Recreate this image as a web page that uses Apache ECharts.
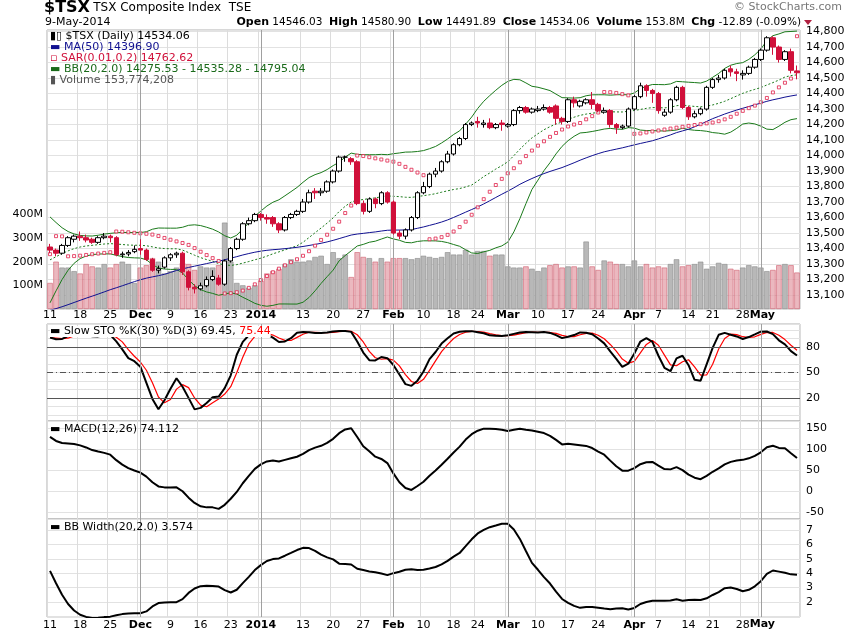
<!DOCTYPE html>
<html><head><meta charset="utf-8">
<script src="https://cdn.jsdelivr.net/npm/echarts@6/dist/echarts.min.js"></script>
<style>html,body{margin:0;padding:0;background:#fff}#c{width:850px;height:633px}</style>
</head><body><div id="c"></div>
<script>
// ---- data ----
const opens = [13410,13390,13370,13420,13460,13480,13470,13460,13440,13470,13480,13470,13360,13365,13380,
13400,13390,13330,13260,13280,13340,13360,13370,13250,13150,13140,13160,13200,13210,13170,13320,13400,13460,13560,13580,
13620,13600,13600,13560,13520,13600,13620,13640,13700,13770,13760,13770,13830,13900,13990,13980,13960,13690,13640,13720,13690,13760,
13700,13500,13480,13520,13600,13760,13800,13880,13900,13960,14010,14070,14110,14200,14220,14200,14210,14180,14210,
14190,14200,14290,14310,14280,14290,14300,14310,14320,14240,14220,14360,14320,14340,14360,14330,14280,14290,14200,14180,14190,
14300,14380,14450,14420,14400,14260,14280,14360,14440,14310,14250,14270,14300,14440,14490,14500,14560,14540,14520,14530,14570,
14620,14680,14760,14700,14620,14670,14546.03];
const closes = [13390,13370,13420,13470,13480,13470,13455,13440,13470,13480,13470,13360,13365,13375,13395,
13390,13330,13260,13270,13340,13360,13370,13250,13150,13140,13160,13200,13220,13170,13320,13400,13460,13560,13580,13620,
13600,13590,13560,13520,13600,13620,13640,13700,13760,13760,13770,13830,13900,13990,13990,13960,13690,13640,13720,13690,13760,13700,
13500,13480,13520,13600,13760,13800,13880,13900,13960,14010,14070,14110,14200,14210,14210,14210,14180,14200,14200,
14200,14290,14310,14280,14300,14300,14310,14280,14240,14220,14360,14340,14350,14360,14330,14290,14290,14200,14180,14190,14300,
14380,14450,14420,14400,14290,14280,14360,14440,14310,14250,14270,14300,14440,14490,14500,14550,14540,14530,14530,14570,14620,
14680,14760,14700,14620,14670,14550,14534.06];
const lows = [13370,13350,13360,13410,13440,13450,13440,13430,13430,13460,13440,13350,13340,13350,13370,
13360,13320,13250,13240,13270,13320,13340,13230,13130,13110,13130,13150,13190,13160,13160,13310,13390,13450,13550,13570,
13580,13560,13540,13500,13510,13590,13610,13630,13690,13720,13740,13760,13820,13890,13960,13940,13680,13620,13630,13660,13680,13690,
13490,13460,13460,13510,13590,13750,13790,13860,13890,13950,14000,14060,14100,14190,14180,14180,14170,14170,14160,
14180,14190,14270,14270,14270,14280,14290,14270,14200,14200,14210,14310,14310,14330,14300,14280,14270,14180,14140,14170,14180,
14290,14370,14380,14340,14270,14250,14270,14350,14300,14230,14240,14260,14290,14430,14470,14490,14510,14480,14490,14520,14560,
14610,14670,14650,14600,14610,14530,14491.89];
const highs = [13430,13400,13430,13480,13490,13510,13490,13470,13480,13500,13490,13480,13380,13390,13420,
13460,13400,13340,13290,13350,13370,13380,13380,13260,13170,13180,13220,13260,13230,13330,13410,13470,13570,13600,13630,
13630,13620,13610,13570,13610,13630,13650,13720,13780,13790,13790,13840,13910,14000,14000,13990,13970,13710,13730,13730,13770,13770,
13710,13520,13530,13610,13770,13830,13890,13920,13970,14030,14080,14120,14210,14220,14250,14230,14240,14210,14230,
14210,14300,14320,14320,14310,14320,14330,14320,14330,14250,14370,14380,14360,14370,14410,14340,14310,14300,14210,14200,14310,
14390,14470,14460,14430,14410,14300,14370,14450,14450,14320,14290,14310,14450,14500,14520,14560,14580,14560,14550,14580,14630,
14690,14770,14770,14710,14680,14690,14580.90];
const volumesM = [110,200,175,175,160,150,190,180,175,190,175,190,200,190,110,
175,185,215,200,150,160,175,195,190,165,180,175,175,185,365,200,110,100,90,100,
120,150,160,170,190,210,200,200,205,220,225,190,240,215,230,135,240,220,215,200,215,200,
215,215,215,210,215,225,220,215,220,240,230,230,250,230,245,245,225,230,230,
180,175,175,180,170,160,175,185,190,175,180,180,175,285,180,165,205,200,190,190,180,
205,180,190,175,180,175,190,210,180,185,190,200,170,180,195,190,170,165,175,185,180,
175,160,165,185,190,185,154];
// closes before Nov 11 2013 (not drawn, only used to warm up the indicators)
const priorCloses = [12650,12620,12600,12650,12680,12700,12650,12620,12640,12660,12690,12710,12740,12760,12780,12800,12820,12790,12760,12800,
12830,12850,12820,12800,12780,12770,12760,12790,12800,12780,12760,12740,12720,12700,12730,12780,12820,12850,12880,12900,
12760,12740,12720,12700,12720,12750,12780,12800,12820,12850,12900,12960,13030,13110,13190,13260,13320,13360,13380,13400,
13420,13410,13430,13440,13420,13400,13390,13400,13420,13410];
const tickLabels = {'2013-11-11':'11','2013-11-18':'18','2013-11-25':'25','2013-12-02':'Dec','2013-12-09':'9','2013-12-16':'16','2013-12-23':'23',
'2014-01-02':'2014','2014-01-13':'13','2014-01-20':'20','2014-01-27':'27','2014-02-03':'Feb','2014-02-10':'10','2014-02-18':'18','2014-02-24':'24',
'2014-03-03':'Mar','2014-03-10':'10','2014-03-17':'17','2014-03-24':'24','2014-04-01':'Apr','2014-04-07':'7','2014-04-14':'14','2014-04-21':'21',
'2014-04-28':'28','2014-05-01':'May'};
const boldLabels = ['Dec','2014','Feb','Mar','Apr','May'];
const lastTickDate = '2014-05-01';

// ---- trading dates ----
const holidays = ['2013-12-25','2013-12-26','2014-01-01','2014-02-17','2014-04-18'];
const dates = [];
{ let d = new Date(Date.UTC(2013,10,11)); const end = Date.UTC(2014,4,9);
  while (d.getTime() <= end) { const s = d.toISOString().slice(0,10); const w = d.getUTCDay();
    if (w>0 && w<6 && holidays.indexOf(s)<0) dates.push(s); d = new Date(d.getTime()+86400000); } }

// ---- indicators ----
const P = priorCloses.length;
const allC = priorCloses.concat(closes);
const allH = priorCloses.map(v=>v+40).concat(highs);
const allL = priorCloses.map(v=>v-40).concat(lows);
function ema(a,n){const k=2/(n+1);const o=[];let e=a[0];for(let i=0;i<a.length;i++){e=i?a[i]*k+e*(1-k):a[i];o.push(e);}return o;}
function sma(a,n){return a.map((v,i)=>{if(i<n-1)return null;let s=0;for(let j=i-n+1;j<=i;j++)s+=a[j];return s/n;});}
const e12=ema(allC,12), e26=ema(allC,26);
const macd = allC.map((v,i)=>e12[i]-e26[i]).slice(P);
const ma50 = sma(allC,50).slice(P);
const bbMid=[],bbUp=[],bbLo=[],bbW=[];
for(let i=P;i<allC.length;i++){let s=0;for(let j=i-19;j<=i;j++)s+=allC[j];const m=s/20;let q=0;for(let j=i-19;j<=i;j++)q+=(allC[j]-m)**2;const sd=Math.sqrt(q/20);
  bbMid.push(m);bbUp.push(m+2*sd);bbLo.push(m-2*sd);bbW.push(4*sd/m*100);}
const fastK = allC.map((c,i)=>{if(i<29)return 50;let hh=-1e9,ll=1e9;for(let j=i-29;j<=i;j++){hh=Math.max(hh,allH[j]);ll=Math.min(ll,allL[j]);}return (c-ll)/(hh-ll)*100;});
const slowK = sma(fastK,3).map(v=>v==null?50:v);
const stoD = sma(slowK,3).map(v=>v==null?50:v);
const stoK = slowK.slice(P), stoDD = stoD.slice(P);
// parabolic SAR (0.01, 0.2)
const sarAll=[];{let up=true,af=0.01,ep=allH[0],sar=allL[0];sarAll.push(sar);
 for(let i=1;i<allC.length;i++){sar=sar+af*(ep-sar);
  if(up){sar=Math.min(sar,allL[i-1],i>1?allL[i-2]:allL[i-1]);
    if(allL[i]<sar){up=false;sar=ep;ep=allL[i];af=0.01;}else if(allH[i]>ep){ep=allH[i];af=Math.min(0.2,af+0.01);}}
  else{sar=Math.max(sar,allH[i-1],i>1?allH[i-2]:allH[i-1]);
    if(allH[i]>sar){up=true;sar=ep;ep=allH[i];af=0.01;}else if(allL[i]<ep){ep=allL[i];af=Math.min(0.2,af+0.01);}}
  sarAll.push(sar);} }
const sar = sarAll.slice(P);

const candle = dates.map((d,i)=>[opens[i],closes[i],lows[i],highs[i]]);
const vol = volumesM.map((v,i)=>{const down=i>0?closes[i]<closes[i-1]:closes[i]<opens[i];
  return {value:v,itemStyle:{color:down?'rgba(228,160,170,0.75)':'#b8b8b8',borderColor:down?'#d06070':'#8a8a8a',borderWidth:0.6}};});

const isTick = (i)=> !!tickLabels[dates[i]];
const isAxisLabel = (i)=> isTick(i) && dates[i] !== lastTickDate;
const monthTicks = dates.filter(d=>['Dec','2014','Feb','Mar','Apr','May'].indexOf(tickLabels[d])>=0);
const F = 'DejaVu Sans';
const L=47,R=50;
const grids=[{left:L,right:R,top:30,height:279},{left:L,right:R,top:324,height:97},{left:L,right:R,top:421,height:98},{left:L,right:R,top:519,height:98}];
function xAx(gi,pos,show){return {type:'category',gridIndex:gi,data:dates,boundaryGap:true,position:pos,
  axisLine:{show:false},axisTick:{show:false},
  axisLabel:{show:show,hideOverlap:false,showMinLabel:true,showMaxLabel:true,interval:(i)=>isAxisLabel(i),formatter:(v)=>{const t=tickLabels[v]||'';return boldLabels.indexOf(t)>=0?'{b|'+t+'}':t;},
    rich:{b:{fontWeight:'bold',fontFamily:F,fontSize:11,color:'#000'}},color:'#000',fontFamily:F,fontSize:11,margin:3},
  splitLine:{show:true,interval:(i)=>isTick(i),lineStyle:{color:'#dcdcdc',width:1}}};}
const monthLine = {silent:true,symbol:'none',label:{show:false},lineStyle:{color:'#a0a0a0',type:'solid',width:1},data:monthTicks.map(d=>({xAxis:d}))};
const yCommon = {position:'right',axisLine:{show:false},axisTick:{show:false},splitLine:{lineStyle:{color:'#e2e2e2'}},
  axisLabel:{color:'#000',fontFamily:F,fontSize:11,margin:6,showMinLabel:false,showMaxLabel:false}};

const chart = echarts.init(document.getElementById('c'),null,{renderer:'canvas'});
const graphics = [
    {type:'text',left:44,top:0,style:{text:'{a|$TSX} {n|TSX Composite Index  TSE}',rich:{a:{fontFamily:F,fontSize:16,fontWeight:'bold',fill:'#000'},n:{fontFamily:F,fontSize:12,fill:'#000'}}}},
    {type:'text',left:45,top:17,style:{text:'9-May-2014',fontFamily:F,fontSize:11,fill:'#000'}},
    {type:'text',right:8,top:2,style:{text:'© StockCharts.com',fontFamily:F,fontSize:11,fill:'#777'}},
    {type:'text',right:49,top:17,style:{text:'{b|Open} 14546.03  {b|High} 14580.90  {b|Low} 14491.89  {b|Close} 14534.06  {b|Volume} 153.8M  {b|Chg} -12.89 (-0.09%)',
      rich:{b:{fontFamily:F,fontSize:11,fontWeight:'bold',fill:'#000'}},fontFamily:F,fontSize:10.5,fill:'#000'}},
    {type:'polygon',shape:{points:[[804,20],[812,20],[808,25]]},style:{fill:'#b02040'}},
    {type:'text',left:50,top:31,z:10,style:{text:'▮▯ $TSX (Daily) 14534.06',fontFamily:F,fontSize:11,fill:'#000'}},
    {type:'text',left:50,top:42,z:10,style:{text:'▬ MA(50) 14396.90',fontFamily:F,fontSize:11,fill:'#101090'}},
    {type:'text',left:50,top:53,z:10,style:{text:'▫ SAR(0.01,0.2) 14762.62',fontFamily:F,fontSize:11,fill:'#d0103a'}},
    {type:'text',left:50,top:64,z:10,style:{text:'▬ BB(20,2.0) 14275.53 - 14535.28 - 14795.04',fontFamily:F,fontSize:11,fill:'#1a6a1a'}},
    {type:'text',left:50,top:75,z:10,style:{text:'▮ Volume 153,774,208',fontFamily:F,fontSize:11,fill:'#555'}},
    {type:'text',left:50,top:326,z:10,style:{text:'▬ Slow STO %K(30) %D(3) 69.45, {r|75.44}',fontFamily:F,fontSize:11,fill:'#000',rich:{r:{fill:'#ff0000',fontFamily:F,fontSize:11}},backgroundColor:'#fff'}},
    {type:'text',left:50,top:424,z:10,style:{text:'▬ MACD(12,26) 74.112',fontFamily:F,fontSize:11,fill:'#000'}},
    {type:'text',left:50,top:522,z:10,style:{text:'▬ BB Width(20,2.0) 3.574',fontFamily:F,fontSize:11,fill:'#000'}}
];
chart.setOption({
  animation:false,backgroundColor:'#fff',
  grid:grids.map(g=>Object.assign({show:true,borderColor:'#b0b0b0',borderWidth:1,backgroundColor:'#fff'},g)),
  xAxis:[xAx(0,'bottom',false),xAx(1,'top',true),xAx(2,'bottom',false),xAx(3,'bottom',true)],
  yAxis:[
    Object.assign({},yCommon,{gridIndex:0,min:13010,max:14810,splitNumber:18}),
    {gridIndex:0,position:'left',min:0,max:1179,interval:100,axisLine:{show:false},axisTick:{show:false},splitLine:{show:false},
      axisLabel:{color:'#000',fontFamily:F,fontSize:11,margin:4,formatter:(v)=>(v>0&&v<=400)?v+'M':''}},
    Object.assign({},yCommon,{gridIndex:1,min:-7,max:107,splitNumber:11,axisLabel:Object.assign({},yCommon.axisLabel,{formatter:(v)=>[20,50,80].indexOf(v)>=0?String(v):''})}),
    Object.assign({},yCommon,{gridIndex:2,min:-66.6,max:166.6,splitNumber:5}),
    Object.assign({},yCommon,{gridIndex:3,min:0.96,max:7.76,splitNumber:7,axisLabel:Object.assign({},yCommon.axisLabel,{formatter:(v)=>v>=2?String(v):''})})
  ],
  series:[
    {type:'bar',xAxisIndex:0,yAxisIndex:1,data:vol,barWidth:'90%',z:1,markLine:monthLine},
    {type:'line',xAxisIndex:0,yAxisIndex:0,data:bbUp,symbol:'none',lineStyle:{color:'#1a7a1a',width:1},z:3},
    {type:'line',xAxisIndex:0,yAxisIndex:0,data:bbLo,symbol:'none',lineStyle:{color:'#1a7a1a',width:1},z:3},
    {type:'line',xAxisIndex:0,yAxisIndex:0,data:bbMid,symbol:'none',lineStyle:{color:'#1a7a1a',width:1,type:[2,2]},z:3},
    {type:'line',xAxisIndex:0,yAxisIndex:0,data:ma50,symbol:'none',lineStyle:{color:'#101090',width:1},z:3},
    {type:'scatter',xAxisIndex:0,yAxisIndex:0,data:sar,symbol:'rect',symbolSize:3,itemStyle:{color:'#fff',borderColor:'#e0204a',borderWidth:1},z:4},
    {type:'candlestick',xAxisIndex:0,yAxisIndex:0,data:candle,barWidth:5,z:5,
      itemStyle:{color:'#ffffff',color0:'#d0103a',borderColor:'#000',borderColor0:'#d0103a',borderWidth:1}},
    {type:'line',xAxisIndex:1,yAxisIndex:2,data:stoDD,symbol:'none',lineStyle:{color:'#ff0000',width:1.2},z:3,
      markLine:{silent:true,symbol:'none',label:{show:false},data:[
        {yAxis:80,lineStyle:{color:'#555',type:'solid',width:1}},{yAxis:20,lineStyle:{color:'#555',type:'solid',width:1}},
        {yAxis:50,lineStyle:{color:'#555',type:[6,3,1,3],width:1}}].concat(monthLine.data.map(d=>({xAxis:d.xAxis,lineStyle:{color:'#a0a0a0',type:'solid',width:1}})))}},
    {type:'line',xAxisIndex:1,yAxisIndex:2,data:stoK,symbol:'none',lineStyle:{color:'#000',width:2},z:4},
    {type:'line',xAxisIndex:2,yAxisIndex:3,data:macd,symbol:'none',lineStyle:{color:'#000',width:2},z:4,markLine:monthLine},
    {type:'line',xAxisIndex:3,yAxisIndex:4,data:bbW,symbol:'none',lineStyle:{color:'#000',width:2},z:4,markLine:monthLine}
  ],
  graphic:graphics
});
// last month label ("May") placed at its category position through the axis scale
const mx = chart.convertToPixel({xAxisIndex:3}, lastTickDate);
const lbl = tickLabels[lastTickDate];
graphics.push({type:'text',x:mx-11,y:619,style:{text:lbl,fontFamily:F,fontSize:11,fontWeight:'bold',fill:'#000'}});
graphics.push({type:'text',x:mx-11,y:310,style:{text:lbl,fontFamily:F,fontSize:11,fontWeight:'bold',fill:'#000'}});
chart.setOption({graphic:graphics});
</script></body></html>
